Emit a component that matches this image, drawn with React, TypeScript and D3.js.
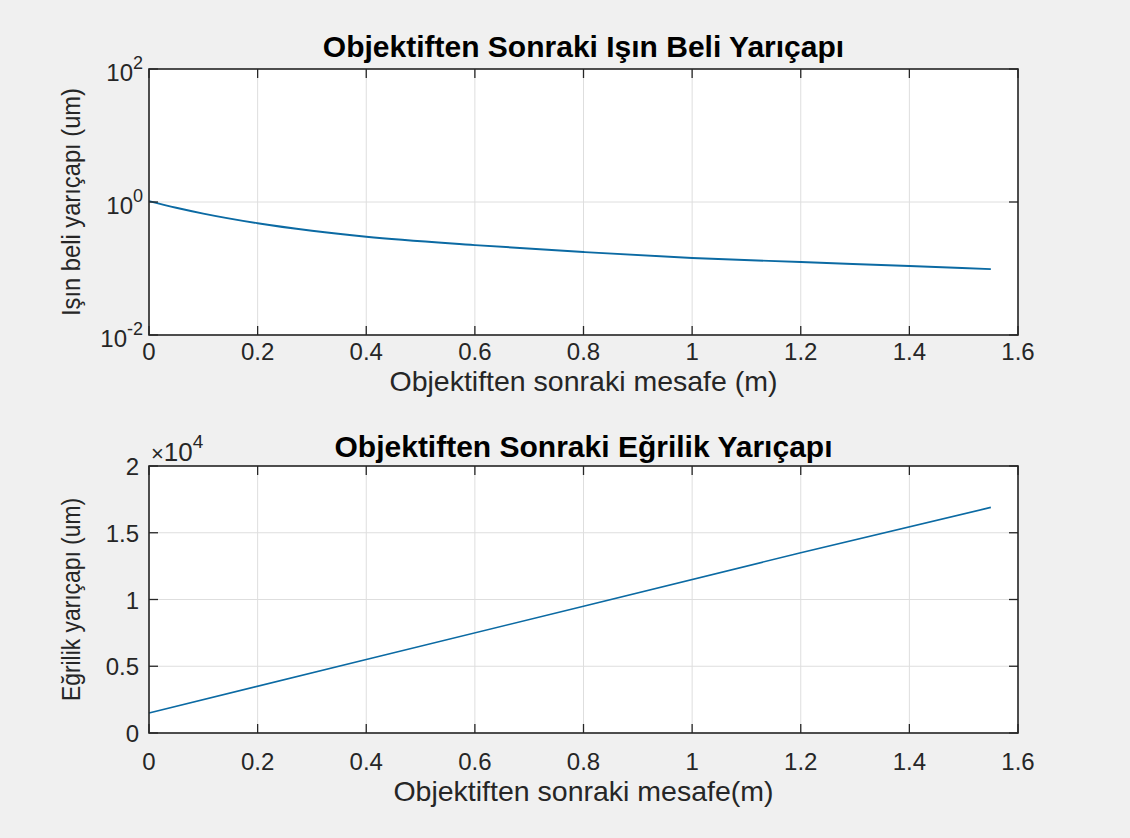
import React from "react";
import * as d3 from "d3";

// Beam waist radius after the objective (log axis), read at distances in metres
const waistDistance = [0, 0.05, 0.1, 0.2, 0.3, 0.4, 0.6, 0.8, 1.0, 1.2, 1.4, 1.55];
const waistRadius = [1.03, 0.82, 0.67, 0.48, 0.37, 0.30, 0.225, 0.177, 0.144, 0.125, 0.109, 0.098];

// Radius of curvature after the objective (linear axis)
const curvDistance = [0, 0.4, 0.8, 1.2, 1.55];
const curvRadius = [1500, 5500, 9500, 13500, 16900];

const xTicks = [0, 0.2, 0.4, 0.6, 0.8, 1, 1.2, 1.4, 1.6];
const logTickExponents = [-2, 0, 2];
const linTicks = [0, 5000, 10000, 15000, 20000];
const linTickLabels = ["0", "0.5", "1", "1.5", "2"];

const FONT = "'Liberation Sans', Arial, Helvetica, sans-serif";
const TEXT = "#262626";
const GRID = "#dedede";
const LINE = "#0b6aa3";

const left = 149;
const right = 1018;
const topA = 69;
const botA = 335;
const topB = 466;
const botB = 733;
const tickLen = 9;

const x = d3.scaleLinear().domain([0, 1.6]).range([left, right]);
const yLog = d3.scaleLog().domain([0.01, 100]).range([botA, topA]);
const yLin = d3.scaleLinear().domain([0, 20000]).range([botB, topB]);

function fmtX(v: number) {
  return d3.format("~g")(v);
}

function Frame({ top, bottom, yVals }: { top: number; bottom: number; yVals: number[] }) {
  return (
    <g>
      <rect x={left} y={top} width={right - left} height={bottom - top} fill="#ffffff" />
      {xTicks.map((t) => (
        <line key={"gx" + t} x1={x(t)} x2={x(t)} y1={top} y2={bottom} stroke={GRID} strokeWidth={1} />
      ))}
      {yVals.map((p, i) => (
        <line key={"gy" + i} x1={left} x2={right} y1={p} y2={p} stroke={GRID} strokeWidth={1} />
      ))}
    </g>
  );
}

function Box({ top, bottom, yVals }: { top: number; bottom: number; yVals: number[] }) {
  return (
    <g stroke={TEXT} strokeWidth={1.3}>
      {xTicks.map((t) => (
        <g key={"tx" + t}>
          <line x1={x(t)} x2={x(t)} y1={bottom} y2={bottom - tickLen} />
          <line x1={x(t)} x2={x(t)} y1={top} y2={top + tickLen} />
        </g>
      ))}
      {yVals.map((p, i) => (
        <g key={"ty" + i}>
          <line x1={left} x2={left + tickLen} y1={p} y2={p} />
          <line x1={right} x2={right - tickLen} y1={p} y2={p} />
        </g>
      ))}
      <rect x={left} y={top} width={right - left} height={bottom - top} fill="none" strokeWidth={1.6} />
    </g>
  );
}

function XTickLabels({ baseline }: { baseline: number }) {
  return (
    <g fontFamily={FONT} fontSize={24} fill={TEXT} textAnchor="middle">
      {xTicks.map((t) => (
        <text key={"lx" + t} x={x(t)} y={baseline}>
          {fmtX(t)}
        </text>
      ))}
    </g>
  );
}

export default function App() {
  const waistLine = d3
    .line<number>()
    .x((_, i) => x(waistDistance[i]))
    .y((d) => yLog(d))
    .curve(d3.curveMonotoneX);
  const curvLine = d3
    .line<number>()
    .x((_, i) => x(curvDistance[i]))
    .y((d) => yLin(d));

  const logTickPos = logTickExponents.map((e) => yLog(Math.pow(10, e)));
  const linTickPos = linTicks.map((v) => yLin(v));
  const cx = (left + right) / 2;

  return (
    <div style={{ position: "absolute", left: 0, top: 0 }}>
      <svg width={1130} height={838} style={{ display: "block" }}>
        <rect width={1130} height={838} fill="#f0f0f0" />

        {/* upper panel: beam waist radius */}
        <Frame top={topA} bottom={botA} yVals={logTickPos} />
        <path d={waistLine(waistRadius) || ""} fill="none" stroke={LINE} strokeWidth={1.9} />
        <Box top={topA} bottom={botA} yVals={logTickPos} />
        <XTickLabels baseline={360} />
        <g fontFamily={FONT} fill={TEXT} textAnchor="end">
          {logTickExponents.map((e) => (
            <text key={"le" + e} x={143} y={yLog(Math.pow(10, e)) + 12} fontSize={24}>
              10
              <tspan fontSize={18} dy={-12}>
                {String(e)}
              </tspan>
            </text>
          ))}
        </g>
        <text x={cx} y={57} fontFamily={FONT} fontSize={30} fontWeight="bold" fill="#000" textAnchor="middle">
          Objektiften Sonraki Işın Beli Yarıçapı
        </text>
        <text x={cx} y={391} fontFamily={FONT} fontSize={28.5} fill={TEXT} textAnchor="middle">
          Objektiften sonraki mesafe (m)
        </text>
        <text
          transform={`translate(80,${(topA + botA) / 2}) rotate(-90)`}
          fontFamily={FONT}
          fontSize={25}
          fill={TEXT}
          textAnchor="middle"
          textLength={228}
          lengthAdjust="spacingAndGlyphs"
        >
          Işın beli yarıçapı (um)
        </text>

        {/* lower panel: radius of curvature */}
        <Frame top={topB} bottom={botB} yVals={linTickPos} />
        <path d={curvLine(curvRadius) || ""} fill="none" stroke={LINE} strokeWidth={1.6} />
        <Box top={topB} bottom={botB} yVals={linTickPos} />
        <XTickLabels baseline={770} />
        <g fontFamily={FONT} fontSize={24} fill={TEXT} textAnchor="end">
          {linTicks.map((v, i) => (
            <text key={"ll" + v} x={139} y={yLin(v) + 9}>
              {linTickLabels[i]}
            </text>
          ))}
        </g>
        <text x={151} y={461} fontFamily={FONT} fill={TEXT} fontSize={26}>
          <tspan fontSize={22}>×</tspan>10
          <tspan fontSize={19} dy={-13}>
            4
          </tspan>
        </text>
        <text x={cx} y={457} fontFamily={FONT} fontSize={30} fontWeight="bold" fill="#000" textAnchor="middle">
          Objektiften Sonraki Eğrilik Yarıçapı
        </text>
        <text x={cx} y={801} fontFamily={FONT} fontSize={28.5} fill={TEXT} textAnchor="middle">
          Objektiften sonraki mesafe(m)
        </text>
        <text
          transform={`translate(80,${(topB + botB) / 2}) rotate(-90)`}
          fontFamily={FONT}
          fontSize={25}
          fill={TEXT}
          textAnchor="middle"
          textLength={203}
          lengthAdjust="spacingAndGlyphs"
        >
          Eğrilik yarıçapı (um)
        </text>
      </svg>
    </div>
  );
}
